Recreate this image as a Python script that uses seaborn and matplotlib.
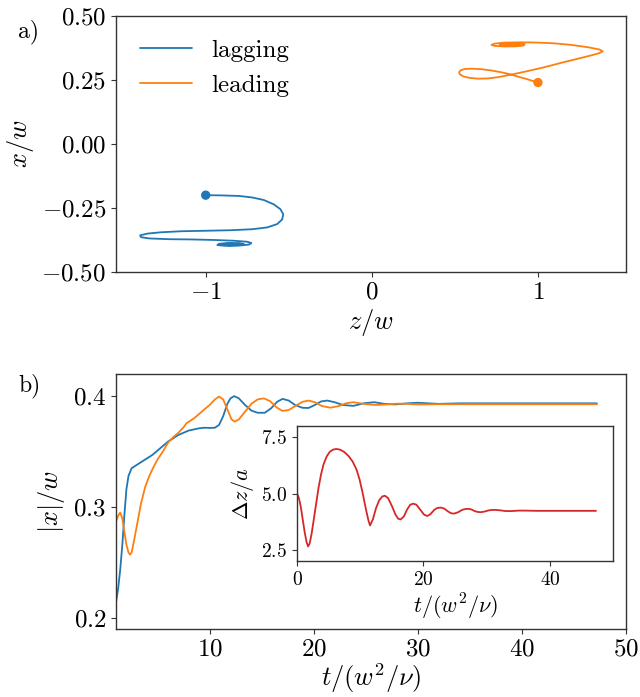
import numpy as np
import pandas as pd
import matplotlib
matplotlib.use("Agg")
import matplotlib.pyplot as plt
import seaborn as sns

# ---------------- data ----------------
# panel a) trajectories in the (z/w, x/w) plane
lag_z = [-1.0, -0.9, -0.8, -0.72, -0.65, -0.59, -0.55, -0.533, -0.54, -0.57, -0.63, -0.72,
         -0.85, -1.0, -1.15, -1.27, -1.35, -1.395, -1.39, -1.34, -1.22, -1.08, -0.95, -0.83,
         -0.75, -0.725, -0.74, -0.8, -0.88, -0.93, -0.92, -0.87, -0.8, -0.77, -0.79, -0.86,
         -0.9, -0.88, -0.84, -0.81, -0.83, -0.86, -0.86]
lag_x = [-0.2, -0.201, -0.203, -0.209, -0.219, -0.236, -0.255, -0.275, -0.295, -0.313, -0.326,
         -0.333, -0.337, -0.339, -0.341, -0.345, -0.350, -0.357, -0.364, -0.369, -0.372, -0.373,
         -0.375, -0.378, -0.382, -0.387, -0.393, -0.397, -0.398, -0.395, -0.39, -0.387, -0.387,
         -0.391, -0.395, -0.396, -0.393, -0.39, -0.39, -0.392, -0.394, -0.393, -0.392]
lead_z = [1.0, 0.96, 0.92, 0.88, 0.84, 0.78, 0.72, 0.66, 0.60, 0.56, 0.535, 0.525, 0.53, 0.55,
          0.59, 0.64, 0.70, 0.76, 0.84, 0.94, 1.04, 1.14, 1.24, 1.32, 1.37, 1.39, 1.37, 1.3,
          1.2, 1.1, 1.0, 0.9, 0.8, 0.74, 0.72, 0.74, 0.8, 0.86, 0.91, 0.92, 0.89, 0.83, 0.78,
          0.77, 0.80, 0.86, 0.89, 0.88, 0.84, 0.80, 0.80, 0.84, 0.87, 0.86, 0.83, 0.83, 0.85]
lead_x = [0.24, 0.248, 0.256, 0.263, 0.271, 0.28, 0.287, 0.292, 0.294, 0.293, 0.288, 0.28,
          0.272, 0.264, 0.258, 0.255, 0.256, 0.261, 0.271, 0.285, 0.3, 0.317, 0.333, 0.346,
          0.355, 0.362, 0.369, 0.378, 0.387, 0.393, 0.396, 0.397, 0.396, 0.392, 0.387, 0.383,
          0.381, 0.381, 0.384, 0.389, 0.393, 0.394, 0.392, 0.388, 0.385, 0.385, 0.388, 0.392,
          0.393, 0.391, 0.388, 0.387, 0.389, 0.391, 0.391, 0.389, 0.389]

# panel b) |x|/w versus t/(w^2/nu)
lag_t = [1.0, 1.2, 1.4, 1.6, 1.8, 2.0, 2.2, 2.5, 3.0, 3.5, 4.0, 4.5, 5.0, 5.5, 6.0, 6.5, 7.0,
         7.5, 8.0, 8.5, 9.0, 9.5, 10.0, 10.5, 10.9, 11.3, 11.7, 12.0, 12.35, 12.8, 13.4, 14.0,
         14.6, 15.3, 15.9, 16.5, 17.0, 17.6, 18.2, 18.9, 19.5, 20.1, 20.7, 21.3, 22.0, 22.8,
         23.8, 24.8, 25.8, 26.8, 27.8, 29.0, 30.0, 31.0, 32.0, 34.0, 36.0, 38.0, 40.0, 42.0,
         44.0, 47.2]
lag_r = [0.214, 0.226, 0.243, 0.265, 0.292, 0.316, 0.328, 0.335, 0.338, 0.341, 0.344, 0.347,
         0.351, 0.355, 0.359, 0.362, 0.365, 0.367, 0.369, 0.370, 0.371, 0.3715, 0.3713, 0.3715,
         0.374, 0.382, 0.393, 0.398, 0.400, 0.398, 0.392, 0.387, 0.385, 0.385, 0.389, 0.395,
         0.3975, 0.396, 0.392, 0.3895, 0.3893, 0.392, 0.3952, 0.396, 0.3945, 0.392, 0.3912,
         0.3935, 0.3945, 0.393, 0.3925, 0.3935, 0.394, 0.3935, 0.393, 0.3935, 0.3935, 0.3935,
         0.3935, 0.3935, 0.3935, 0.3935]
lead_t = [1.0, 1.2, 1.4, 1.6, 1.8, 2.0, 2.2, 2.35, 2.5, 2.7, 3.0, 3.4, 3.8, 4.2, 4.6, 5.0, 5.5,
          6.0, 6.5, 7.0, 7.5, 7.77, 8.5, 9.0, 9.42, 10.0, 10.5, 10.9, 11.3, 11.7, 12.1, 12.4,
          12.8, 13.4, 14.0, 14.6, 15.2, 15.8, 16.4, 17.0, 17.6, 18.3, 18.9, 19.5, 20.1, 20.8,
          21.6, 22.4, 23.1, 23.8, 24.8, 25.9, 27.0, 28.0, 29.0, 30.0, 32.0, 34.0, 36.0, 40.0,
          44.0, 47.2]
lead_r = [0.287, 0.292, 0.295, 0.290, 0.278, 0.266, 0.259, 0.257, 0.259, 0.268, 0.283, 0.303,
          0.318, 0.328, 0.336, 0.343, 0.350, 0.358, 0.363, 0.367, 0.372, 0.3755, 0.380, 0.384,
          0.3875, 0.392, 0.397, 0.3996, 0.397, 0.388, 0.379, 0.377, 0.379, 0.386, 0.393, 0.397,
          0.398, 0.3955, 0.390, 0.3866, 0.3875, 0.3915, 0.3948, 0.396, 0.3945, 0.391, 0.3896,
          0.391, 0.3935, 0.3945, 0.393, 0.392, 0.3925, 0.3932, 0.393, 0.3925, 0.3927, 0.3927,
          0.3927, 0.3927, 0.3927, 0.3927]

# inset: Delta z / a versus t/(w^2/nu)
dz_t = [0.0, 0.3, 0.6, 0.9, 1.2, 1.5, 1.75, 2.0, 2.3, 2.6, 3.0, 3.4, 3.8, 4.2, 4.7, 5.2, 5.7,
        6.2, 6.8, 7.5, 8.2, 8.8, 9.4, 9.9, 10.4, 10.9, 11.3, 11.55, 12.0, 12.5, 13.0, 13.5,
        13.9, 14.4, 15.0, 15.6, 16.0, 16.4, 16.9, 17.4, 17.9, 18.4, 18.9, 19.5, 20.1, 20.6,
        21.1, 21.7, 22.2, 22.75, 23.3, 23.9, 24.4, 24.9, 25.5, 26.1, 26.6, 27.1, 27.6, 28.1,
        28.6, 29.1, 29.7, 30.3, 30.9, 31.5, 32.2, 33.0, 34.0, 35.0, 36.0, 38.0, 40.0, 42.0,
        44.0, 46.0, 47.3]
dz_v = [5.0, 4.8, 4.4, 3.85, 3.3, 2.85, 2.65, 2.78, 3.2, 3.75, 4.5, 5.25, 5.85, 6.3, 6.65,
        6.86, 6.95, 6.98, 6.95, 6.84, 6.65, 6.42, 6.07, 5.62, 5.0, 4.3, 3.8, 3.58, 3.85, 4.35,
        4.7, 4.87, 4.9, 4.8, 4.45, 4.05, 3.88, 3.85, 3.98, 4.28, 4.5, 4.55, 4.5, 4.28, 4.06,
        4.0, 4.08, 4.27, 4.36, 4.375, 4.33, 4.2, 4.12, 4.11, 4.17, 4.27, 4.31, 4.32, 4.29,
        4.22, 4.18, 4.17, 4.2, 4.25, 4.27, 4.27, 4.25, 4.22, 4.22, 4.24, 4.24, 4.23, 4.23,
        4.23, 4.23, 4.23, 4.23]

series_labels = ["lagging", "leading"]
inset_xticks = [0, 20, 40]
inset_yticks = [2.5, 5.0, 7.5]

# ---------------- style ----------------
sns.set_style("ticks")
plt.rcParams.update({
    "font.family": ["cmr10", "DejaVu Serif"],
    "mathtext.fontset": "cm",
    "axes.formatter.use_mathtext": True,
    "axes.edgecolor": "#333333",
    "axes.linewidth": 1.0,
    "xtick.color": "#333333",
    "ytick.color": "#333333",
    "xtick.labelcolor": "black",
    "ytick.labelcolor": "black",
    "text.color": "black",
    "axes.labelcolor": "black",
    "xtick.direction": "out",
    "ytick.direction": "out",
})

BLUE = "#1f77b4"
ORANGE = "#ff7f0e"
RED = "#d62728"
LW = 1.3

fig = plt.figure(figsize=(6.4, 6.97), dpi=100)
ax1 = fig.add_axes([0.18125, 0.6098, 0.7969, 0.3673])
ax2 = fig.add_axes([0.18125, 0.0976, 0.7969, 0.3659])
ax3 = fig.add_axes([0.4641, 0.1951, 0.4938, 0.1937])

# ---- panel a ----
sns.lineplot(x=lag_z, y=lag_x, sort=False, estimator=None, color=BLUE, lw=LW,
             label=series_labels[0], ax=ax1)
sns.lineplot(x=lead_z, y=lead_x, sort=False, estimator=None, color=ORANGE, lw=LW,
             label=series_labels[1], ax=ax1)
sns.scatterplot(x=[lag_z[0]], y=[lag_x[0]], color=BLUE, s=45, edgecolor="none", ax=ax1)
sns.scatterplot(x=[lead_z[0]], y=[lead_x[0]], color=ORANGE, s=45, edgecolor="none", ax=ax1)
ax1.set_xlim(-1.54, 1.53)
ax1.set_ylim(-0.5, 0.5)
ax1.set_xticks([-1, 0, 1])
ax1.set_yticks([-0.5, -0.25, 0.0, 0.25, 0.5])
ax1.set_yticklabels(["$-0.50$", "$-0.25$", "$0.00$", "$0.25$", "$0.50$"])
ax1.set_xticklabels(["$-1$", "$0$", "$1$"])
ax1.set_xlabel("$z/w$", fontsize=19, labelpad=2)
ax1.set_ylabel("$x/w$", fontsize=19)
ax1.tick_params(labelsize=18)
leg = ax1.legend(loc="upper left", frameon=False, fontsize=18, handlelength=2.1,
                 handletextpad=0.75, labelspacing=0.5, borderaxespad=0.55)

# ---- panel b ----
sns.lineplot(x=lag_t, y=lag_r, sort=False, estimator=None, color=BLUE, lw=LW, ax=ax2)
sns.lineplot(x=lead_t, y=lead_r, sort=False, estimator=None, color=ORANGE, lw=LW, ax=ax2)
ax2.set_xlim(1, 50)
ax2.set_ylim(0.19, 0.42)
ax2.set_xticks([10, 20, 30, 40, 50])
ax2.set_yticks([0.2, 0.3, 0.4])
ax2.set_xlabel(r"$t/(w^2/\nu)$", fontsize=19, labelpad=0)
ax2.set_ylabel(r"$|x|/w$", fontsize=19)
ax2.tick_params(labelsize=18)

# ---- inset ----
sns.lineplot(x=dz_t, y=dz_v, sort=False, estimator=None, color=RED, lw=LW, ax=ax3)
ax3.set_xlim(0, 50)
ax3.set_ylim(2.0, 8.0)
ax3.set_xticks(inset_xticks)
ax3.set_yticks(inset_yticks)
ax3.set_xlabel(r"$t/(w^2/\nu)$", fontsize=16, labelpad=2)
ax3.set_ylabel(r"$\Delta z/a$", fontsize=16)
ax3.tick_params(labelsize=14)

fig.text(0.028, 0.955, "a)", fontsize=17, va="center")
fig.text(0.028, 0.447, "b)", fontsize=17, va="center")

fig.savefig("out.png", dpi=100)
